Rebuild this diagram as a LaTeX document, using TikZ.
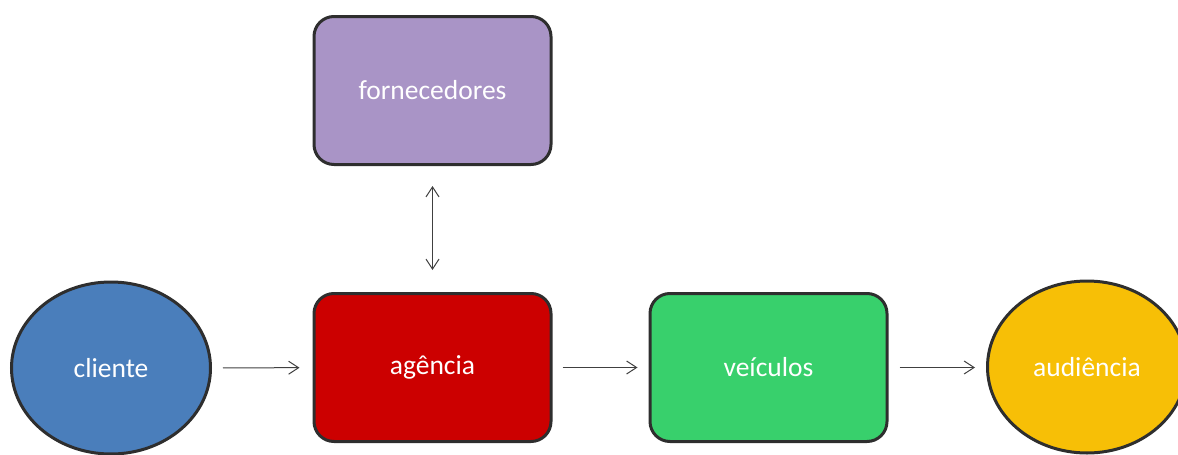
\documentclass[tikz,border=0pt]{standalone}
\usepackage{fontspec}
\setmainfont{Carlito}
\usetikzlibrary{shapes.geometric,arrows.meta}
\definecolor{cblue}{HTML}{4A7EBB}
\definecolor{cred}{HTML}{CC0000}
\definecolor{cgreen}{HTML}{38D06C}
\definecolor{cpurple}{HTML}{A994C6}
\definecolor{cyellow}{HTML}{F7BF06}
\definecolor{cborder}{HTML}{2E2E2E}
\definecolor{carrow}{HTML}{404040}
\tikzset{
  shapebase/.style={draw=cborder, line width=3pt, text=white, inner sep=0pt,
    font=\fontsize{27.5}{33}\selectfont},
  roundbox/.style={shapebase, rectangle, rounded corners=20pt,
    minimum width=237pt, minimum height=148pt},
  oval/.style={shapebase, ellipse, minimum width=199pt, minimum height=172pt},
  tipstyle/.style={},
  flow/.style={draw=carrow, line width=1pt, -{Straight Barb[length=10pt,width=13pt]}},
  flowboth/.style={draw=carrow, line width=1pt, {Straight Barb[length=10pt,width=13pt]}-{Straight Barb[length=10pt,width=13pt]}}
}
\begin{document}
\begin{tikzpicture}[x=1pt,y=-1pt]
\useasboundingbox (0,0) rectangle (1178,455);
\clip (0,0) rectangle (1178,455);
\node[oval, fill=cblue] (cliente) at (111,368) {cliente};
\node[roundbox, fill=cred] (agencia) at (432.5,367.5) {agência};
\node[roundbox, fill=cpurple] (fornecedores) at (432.5,90.5) {fornecedores};
\node[roundbox, fill=cgreen] (veiculos) at (768.5,367.5) {veículos};
\node[oval, fill=cyellow] (audiencia) at (1087,367) {audiência};
\draw[flow, shorten <=11pt, shorten >=13pt] (cliente) -- (agencia);
\draw[flow, shorten <=10pt, shorten >=11pt] (agencia) -- (veiculos);
\draw[flow, shorten <=11pt, shorten >=11pt] (veiculos) -- (audiencia.west |- veiculos.east);
\draw[flowboth, shorten <=20pt, shorten >=22pt] (fornecedores) -- (agencia);
\end{tikzpicture}
\end{document}
